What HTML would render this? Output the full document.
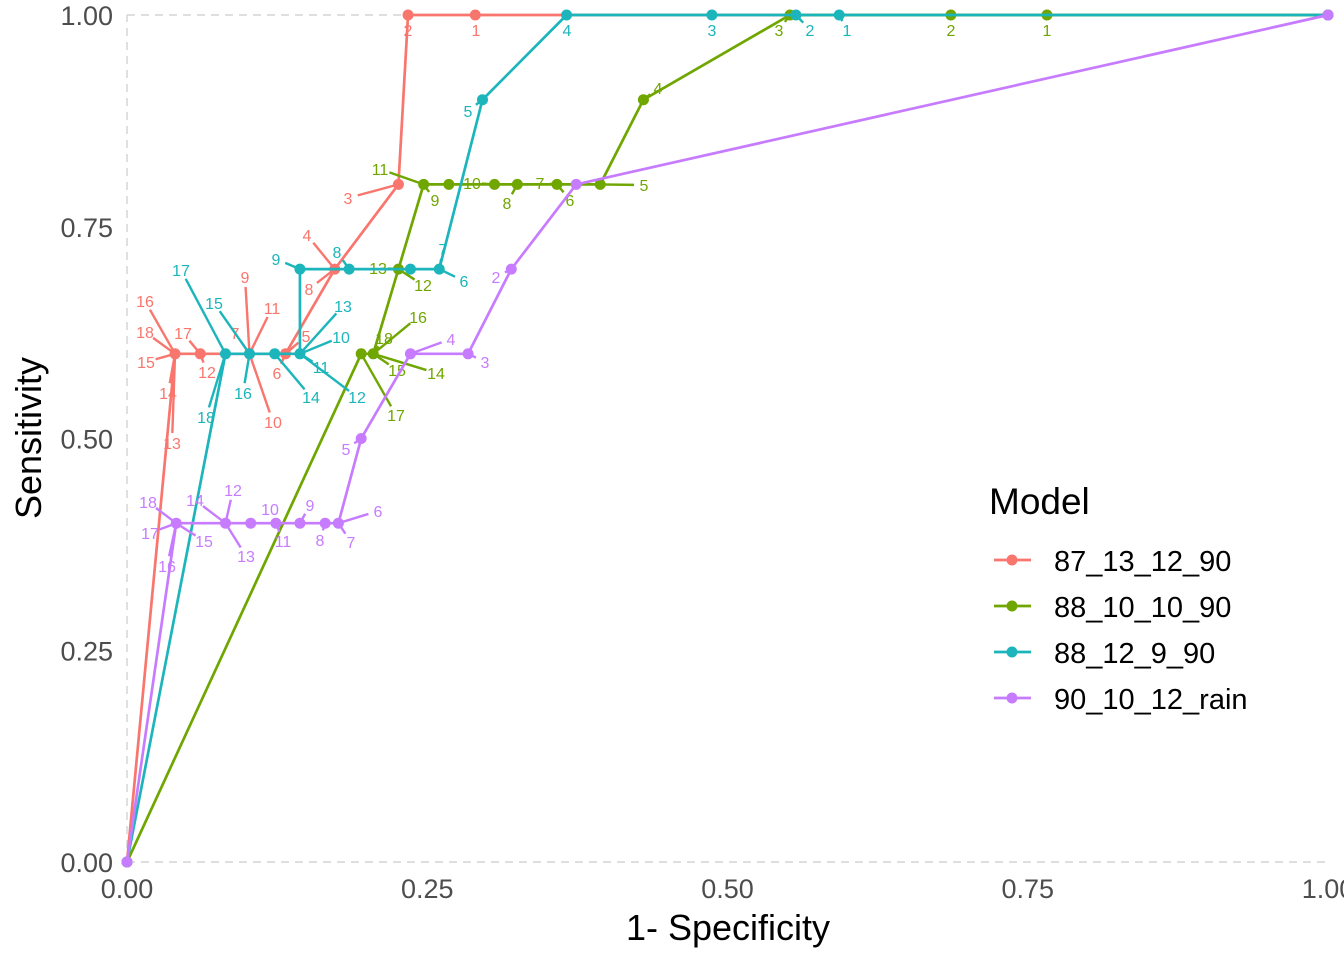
<!DOCTYPE html>
<html><head><meta charset="utf-8"><style>
body{margin:0;background:#fff;width:1344px;height:960px;overflow:hidden;font-family:"Liberation Sans",sans-serif}
</style></head><body>
<svg id="chart" width="1344" height="960" xmlns="http://www.w3.org/2000/svg" font-family="Liberation Sans, sans-serif">
<g id="axes"></g>
<g id="series"></g>
<g id="legend"></g>
</svg>
<script>
const xTicks=[0,0.25,0.5,0.75,1.0];
const xTickLabels=["0.00","0.25","0.50","0.75","1.00"];
const yTicks=[0,0.25,0.5,0.75,1.0];
const yTickLabels=["0.00","0.25","0.50","0.75","1.00"];
const modelNames=["87_13_12_90","88_10_10_90","88_12_9_90","90_10_12_rain"];
const modelColors=["#F8766D","#6FA600","#1BB5BB","#C77CFF"];
const fprRed=[0,0.04,0.061,0.102,0.132,0.173,0.226,0.234,0.29,1];
const tprRed=[0,0.6,0.6,0.6,0.6,0.7,0.8,1,1,1];
const fprGreen=[0,0.195,0.205,0.226,0.247,0.268,0.306,0.325,0.358,0.394,0.43,0.552,0.686,0.766,1];
const tprGreen=[0,0.6,0.6,0.7,0.8,0.8,0.8,0.8,0.8,0.8,0.9,1,1,1,1];
const fprTeal=[0,0.082,0.102,0.123,0.144,0.144,0.185,0.236,0.26,0.296,0.366,0.487,0.557,0.593,1];
const tprTeal=[0,0.6,0.6,0.6,0.6,0.7,0.7,0.7,0.7,0.9,1,1,1,1,1];
const fprPurple=[0,0.041,0.082,0.103,0.124,0.144,0.165,0.176,0.195,0.236,0.284,0.32,0.374,1];
const tprPurple=[0,0.4,0.4,0.4,0.4,0.4,0.4,0.4,0.5,0.6,0.6,0.7,0.8,1];
// threshold label -> point index, plus repelled label placement
const lblRed=[["1",8,476,36],["2",7,408,36],["3",6,348,204],["4",5,307,241],["8",5,309,295],["5",4,306,342],["6",4,277,379],["7",3,235,339],["9",3,245,283],["10",3,273,428],["11",3,272,314],["12",2,207,378],["17",2,183,339],["13",1,172,449],["14",1,168,399],["15",1,146,368],["16",1,145,307],["18",1,145,338]];
const lblGreen=[["1",13,1047,36],["2",12,951,36],["3",11,779,36],["4",10,658,94],["5",9,644,191],["6",8,570,206],["7",8,540,189],["8",7,507,209],["10",6,472,189],["9",4,435,206],["11",4,380,175],["12",3,423,291],["13",3,378,274],["14",2,436,379],["15",2,397,376],["16",2,418,323],["17",1,396,421],["18",2,384,344]];
const lblTeal=[["1",13,847,36],["2",12,810,36],["3",11,712,36],["4",10,567,36],["5",9,468,117],["6",8,464,287],["7",8,443,255],["8",6,337,258],["9",5,276,265],["10",4,341,343],["11",4,321,373],["12",4,357,403],["13",4,343,312],["14",3,311,403],["15",2,214,309],["16",2,243,399],["17",1,181,276],["18",1,206,423]];
const lblPurple=[["2",11,496,283],["3",10,485,368],["4",9,451,345],["5",8,346,455],["6",7,378,517],["7",7,351,548],["8",6,320,546],["9",5,310,511],["10",4,270,515],["11",4,283,547],["12",2,233,496],["13",2,246,562],["14",2,195,506],["15",1,204,547],["16",1,167,572],["17",1,150,539],["18",1,148,508]];
const seriesFpr=[fprRed,fprGreen,fprTeal,fprPurple];
const seriesTpr=[tprRed,tprGreen,tprTeal,tprPurple];
const seriesLbl=[lblRed,lblGreen,lblTeal,lblPurple];

const X0=127,X1=1328,Y0=862,Y1=15;
const sx=v=>X0+v*(X1-X0);
const sy=v=>Y0-v*(Y0-Y1);
const NS="http://www.w3.org/2000/svg";
function mk(tag,attrs,parent,text){const e=document.createElementNS(NS,tag);for(const k in attrs)e.setAttribute(k,attrs[k]);if(text!==undefined)e.textContent=text;parent.appendChild(e);return e;}
const axes=document.getElementById('axes');
let e;
e=mk('line',{x1:X0,y1:Y0,x2:X0,y2:Y1,stroke:'#cccccc','stroke-width':1.2,'stroke-dasharray':'8,6'},axes);

e=mk('line',{x1:X0,y1:Y1,x2:X1,y2:Y1,stroke:'#cccccc','stroke-width':1.2,'stroke-dasharray':'8,6'},axes);

e=mk('line',{x1:X0,y1:Y0,x2:X1,y2:Y0,stroke:'#cccccc','stroke-width':1.2,'stroke-dasharray':'8,6'},axes);

xTicks.forEach((t,i)=>{e=mk('text',{x:sx(t),y:898,'font-size':27,fill:'#4d4d4d','text-anchor':'middle'},axes,xTickLabels[i]);
});
yTicks.forEach((t,i)=>{e=mk('text',{x:113,y:sy(t)+10,'font-size':27,fill:'#4d4d4d','text-anchor':'end'},axes,yTickLabels[i]);
});
e=mk('text',{x:728,y:940,'font-size':36,fill:'#000','text-anchor':'middle'},axes,'1- Specificity');

e=mk('text',{x:0,y:0,'font-size':36,fill:'#000','text-anchor':'middle',transform:'translate(41,438) rotate(-90)'},axes,'Sensitivity');


const ser=document.getElementById('series');
seriesFpr.forEach((fpr,s)=>{
  const col=modelColors[s],tpr=seriesTpr[s];
  const g=mk('g',{},ser);
  
  
  seriesLbl[s].forEach(l=>{
    const px=sx(fpr[l[1]]),py=sy(tpr[l[1]]);
    const dx=l[2]-px,dy=(l[3]-6)-py,d=Math.hypot(dx,dy);
    if(d>14){const k=(d-10)/d;
      const ln=mk('line',{x1:px,y1:py,x2:px+dx*k,y2:py+dy*k,stroke:col,'stroke-width':2.4},g);
      
      }
  });
  const pl=mk('polyline',{points:fpr.map((v,i)=>sx(v)+','+sy(tpr[i])).join(' '),fill:'none',stroke:col,'stroke-width':2.7},g);
  
  
  fpr.forEach((v,i)=>{
    const c=mk('circle',{cx:sx(v),cy:sy(tpr[i]),r:5.5,fill:col},g);
    
    
  });
  seriesLbl[s].forEach(l=>{
    const t=mk('text',{x:l[2],y:l[3],'font-size':16,fill:col,'text-anchor':'middle'},g,l[0]);
    
    
  });
});

const lg=document.getElementById('legend');
e=mk('text',{x:989,y:514,'font-size':37,fill:'#000'},lg,'Model');

modelNames.forEach((n,i)=>{
  const y=560+i*46;
  const g=mk('g',{},lg);
  
  
  mk('line',{x1:994,y1:y,x2:1031,y2:y,stroke:modelColors[i],'stroke-width':2.7},g);
  mk('circle',{cx:1012,cy:y,r:5.5,fill:modelColors[i]},g);
  mk('text',{x:1054,y:y+11,'font-size':29,fill:'#000'},g,n);
});
</script>
</body></html>
